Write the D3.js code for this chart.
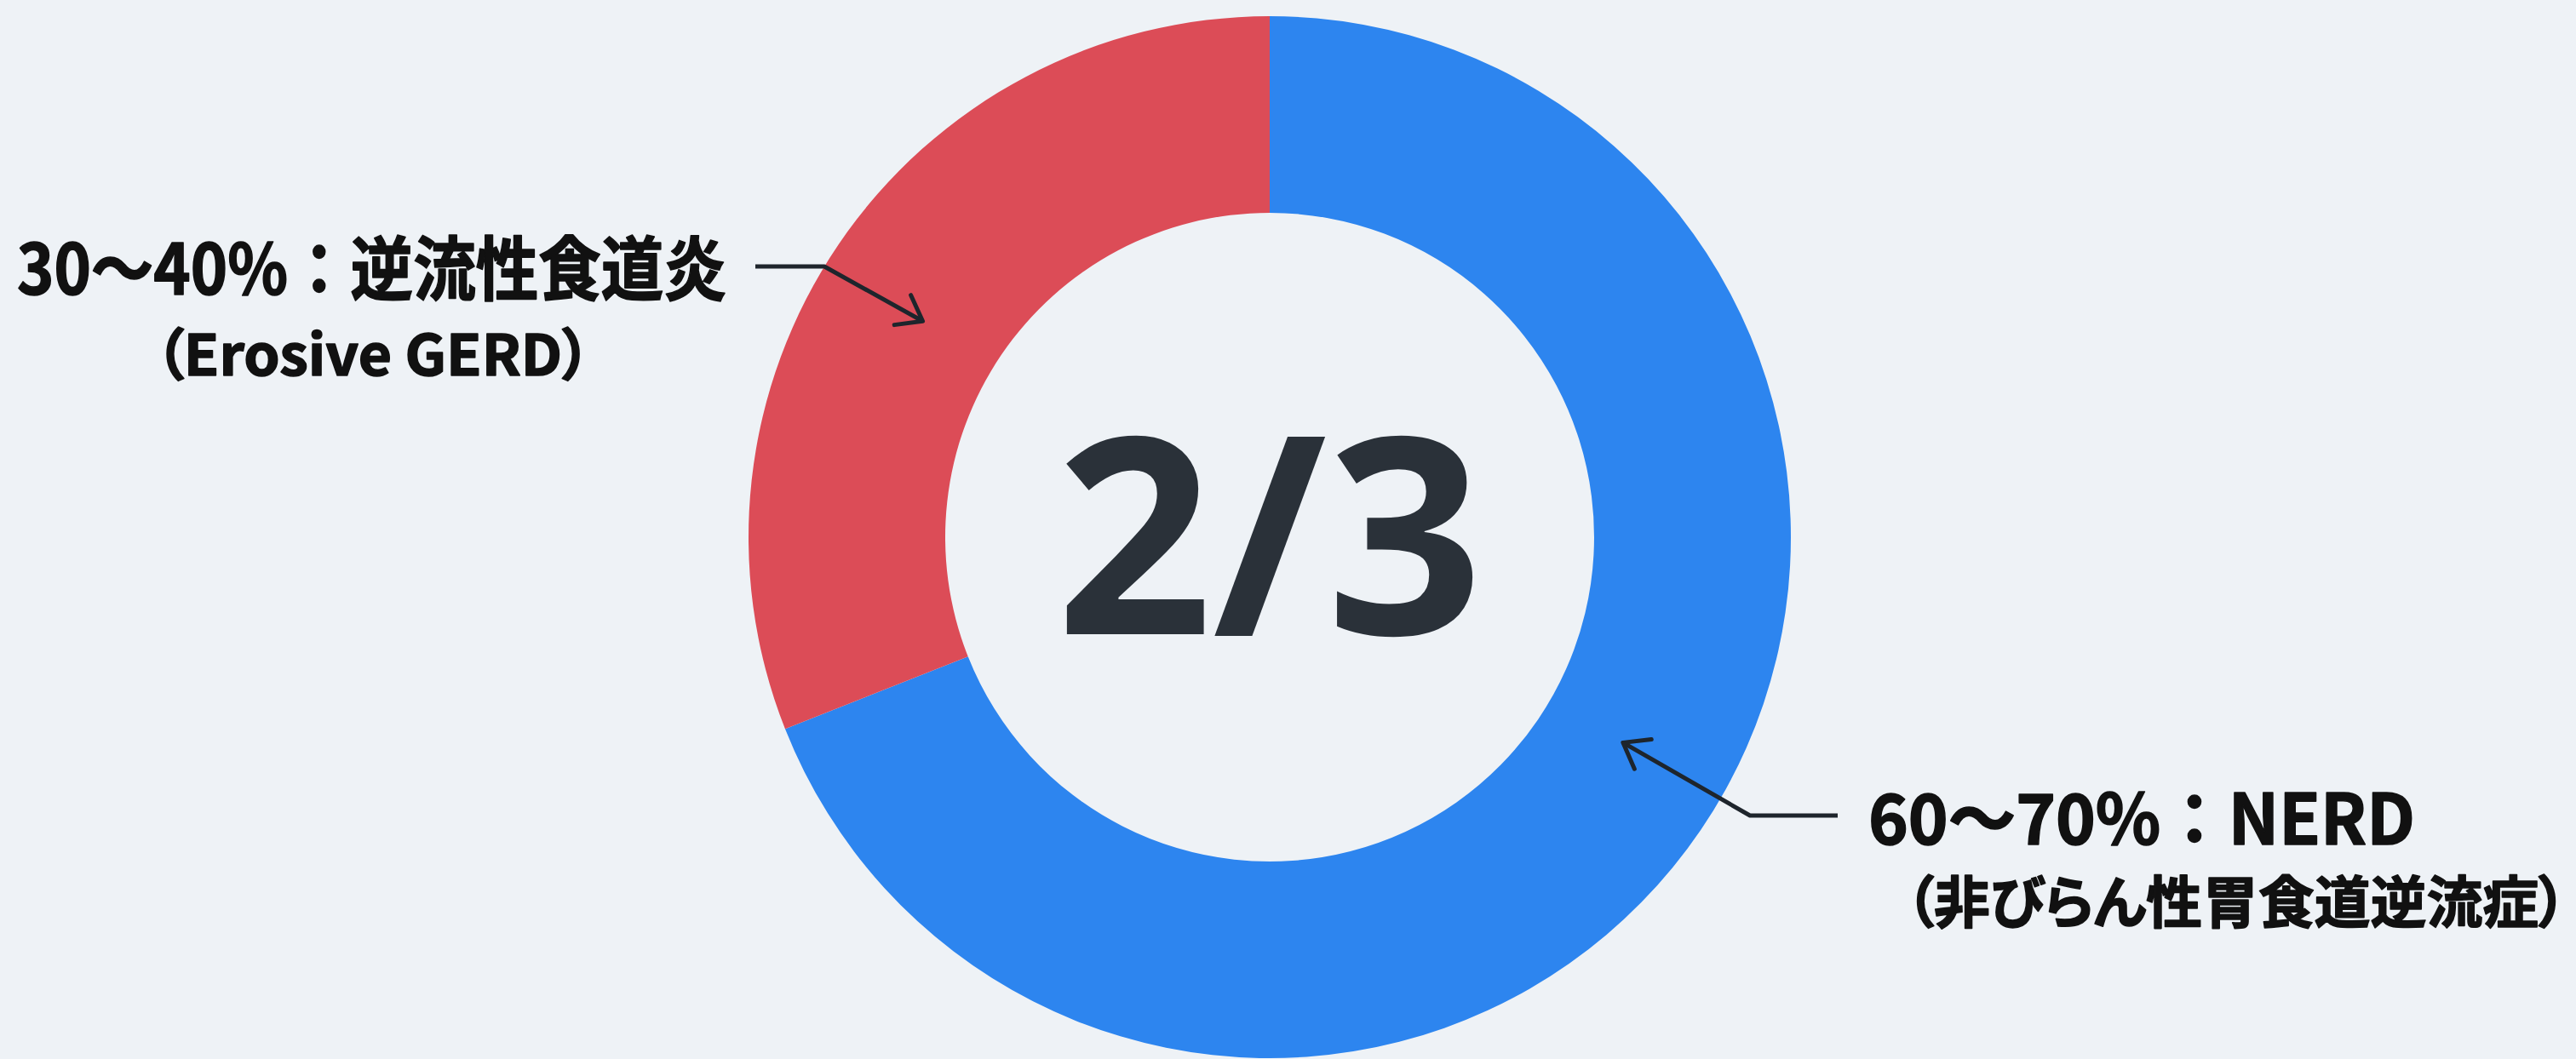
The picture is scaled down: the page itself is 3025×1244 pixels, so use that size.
<!doctype html>
<html>

<head>
  <meta charset="utf-8">
  <title>GERD donut</title>
  <style>
    html, body {
      margin: 0;
      padding: 0;
      background-color: #EEF2F6;
    }

    svg {
      display: block;
    }

    .label {
      font-family: "Noto Sans CJK JP", "Noto Sans", sans-serif;
      font-weight: 700;
      fill: #111111;
      stroke: #111111;
      stroke-width: 1.6px;
      stroke-linejoin: round;
    }

    .label.sub {
      font-feature-settings: "palt";
    }

    .center-text {
      font-family: "Noto Sans", "Noto Sans CJK JP", sans-serif;
      font-weight: 700;
      fill: #2A3139;
    }
  </style>
</head>

<body>
  <div id="chart"></div>
  <script src="https://d3js.org/d3.v7.min.js"></script>
  <script>
    // data
    const categories = ['NERD', 'Erosive GERD'];
    const shares = [69, 31];
    const sliceColors = ['#2D85EF', '#DC4C57'];
    const titleLines = ['60～70%：NERD', '30～40%：逆流性食道炎'];
    const subLines = ['（非びらん性胃食道逆流症）', '（Erosive GERD）'];
    const centerText = '2/3';

    const width = 3025;
    const height = 1244;

    const svg = d3.select('#chart').append('svg')
      .attr('width', width)
      .attr('height', height);

    svg.append('rect')
      .attr('width', width)
      .attr('height', height)
      .style('fill', '#EEF2F6');

    // arrow head
    svg.append('defs').append('marker')
      .attr('id', 'head')
      .attr('markerUnits', 'userSpaceOnUse')
      .attr('viewBox', '-40 -30 50 60')
      .attr('refX', 0)
      .attr('refY', 0)
      .attr('markerWidth', 50)
      .attr('markerHeight', 60)
      .attr('orient', 'auto')
      .append('path')
      .attr('d', 'M-27,-20 L0,0 L-27,20')
      .style('fill', 'none')
      .style('stroke', '#1E252C')
      .style('stroke-width', 5)
      .style('stroke-linecap', 'round')
      .style('stroke-linejoin', 'round');

    const cx = 1491;
    const cy = 631;
    const outerR = 612;
    const innerR = 381;

    const pie = d3.pie().sort(null).value(d => d.value);
    const arcs = pie(categories.map((c, i) => ({ name: c, value: shares[i] })));

    const arc = d3.arc().innerRadius(innerR).outerRadius(outerR);

    const g = svg.append('g').attr('transform', `translate(${cx},${cy})`);

    g.selectAll('path.slice')
      .data(arcs)
      .join('path')
      .attr('class', 'slice')
      .attr('d', arc)
      .style('fill', (d, i) => sliceColors[i]);

    g.append('text')
      .attr('class', 'center-text')
      .attr('x', 0)
      .attr('y', 114)
      .attr('text-anchor', 'middle')
      .style('font-size', '322px')
      .text(centerText);

    // arrows point into the ring, a bit before the middle angle of each slice
    const polar = (r, a) => [cx + r * Math.sin(a), cy - r * Math.cos(a)];
    const tipR = 480;
    const tipShift = [-0.07, -0.04];

    // [blue, red] : where the elbow line starts, and its horizontal run
    const lineStart = [[2158, 958], [887, 313]];
    const elbowRun = [-103, 81];

    arcs.forEach((d, i) => {
      const mid = (d.startAngle + d.endAngle) / 2 + tipShift[i];
      const tip = polar(tipR, mid);
      const s = lineStart[i];
      const elbow = [s[0] + elbowRun[i], s[1]];
      svg.append('path')
        .attr('d', d3.line()([s, elbow, tip]))
        .style('fill', 'none')
        .style('stroke', '#1E252C')
        .style('stroke-width', 5)
        .style('stroke-linejoin', 'round')
        .attr('marker-end', 'url(#head)');
    });

    // labels
    const labelPos = [
      { x1: 2194, y1: 992, len1: 642, anchor1: 'start', x2: 2238, y2: 1084, len2: 776, anchor2: 'start', size2: 66 },
      { x1: 20, y1: 346, len1: 833, anchor1: 'start', x2: 438, y2: 441, len2: 512, anchor2: 'middle', size2: 66 }
    ];

    labelPos.forEach((p, i) => {
      svg.append('text')
        .attr('class', 'label')
        .attr('x', p.x1)
        .attr('y', p.y1)
        .attr('text-anchor', p.anchor1)
        .attr('textLength', p.len1)
        .attr('lengthAdjust', 'spacingAndGlyphs')
        .style('font-size', '82px')
        .text(titleLines[i]);

      svg.append('text')
        .attr('class', 'label sub')
        .attr('x', p.x2)
        .attr('y', p.y2)
        .attr('text-anchor', p.anchor2)
        .attr('textLength', p.len2)
        .attr('lengthAdjust', 'spacingAndGlyphs')
        .style('font-size', p.size2 + 'px')
        .text(subLines[i]);
    });
  </script>
</body>

</html>
